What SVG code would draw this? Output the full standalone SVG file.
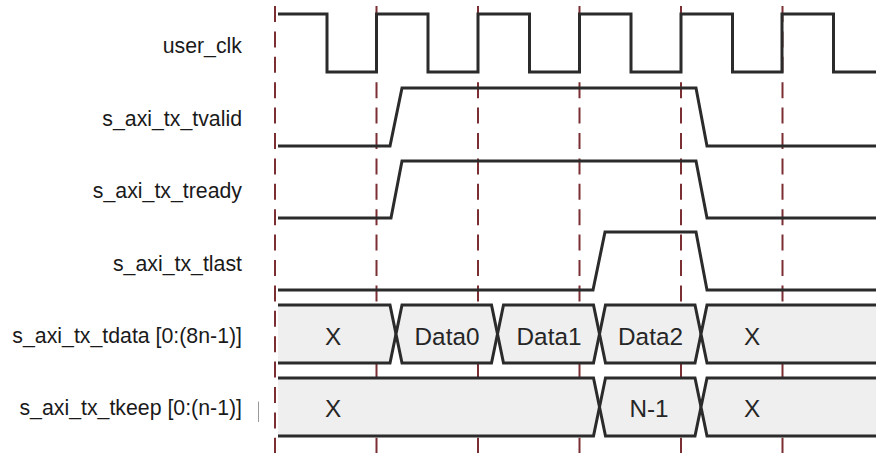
<svg xmlns="http://www.w3.org/2000/svg" width="876" height="453" viewBox="0 0 876 453">
<style>
.lbl{font-family:"Liberation Sans",Arial,sans-serif;font-size:21.3px;fill:#1a1a1a;text-anchor:end}
.btx{font-family:"Liberation Sans",Arial,sans-serif;font-size:24.3px;fill:#262626;text-anchor:middle}
.wave{fill:none;stroke:#2b2b2b;stroke-width:3;stroke-linejoin:miter}
.bus{fill:#efefef;stroke:#2b2b2b;stroke-width:3;stroke-linejoin:miter}
.grid{stroke:#7b2f33;stroke-width:2;stroke-dasharray:16 9.4;fill:none}
</style>
<rect width="876" height="453" fill="#ffffff"/>
<g id="labels">
<text class="lbl" x="242" y="53">user_clk</text>
<text class="lbl" x="242" y="126">s_axi_tx_tvalid</text>
<text class="lbl" x="242" y="198">s_axi_tx_tready</text>
<text class="lbl" x="242" y="271">s_axi_tx_tlast</text>
<text class="lbl" x="242" y="343">s_axi_tx_tdata [0:(8n-1)]</text>
<text class="lbl" x="242" y="415">s_axi_tx_tkeep [0:(n-1)]</text>
<line x1="258.5" y1="401.5" x2="258.5" y2="422" stroke="#9a9a9a" stroke-width="1"/>
</g>
<g id="connectors">
<line class="grid" x1="275" y1="6" x2="275" y2="453"/>
<line class="grid" x1="376.5" y1="6" x2="376.5" y2="453"/>
<line class="grid" x1="478" y1="6" x2="478" y2="453"/>
<line class="grid" x1="579.5" y1="6" x2="579.5" y2="453"/>
<line class="grid" x1="681" y1="6" x2="681" y2="453"/>
<line class="grid" x1="782.5" y1="6" x2="782.5" y2="453"/>
</g>
<g id="user_clk">
<path class="wave" d="M278,14 H327 V72 H376.5 V14 H428 V72 H478 V14 H529.5 V72 H579.5 V14 H631 V72 H681 V14 H732.5 V72 H782 V14 H833.5 V72 H878"/>
</g>
<g id="s_axi_tx_tvalid">
<path class="wave" d="M278,146 H390 L402,88 H696 L707,146 H878"/>
</g>
<g id="s_axi_tx_tready">
<path class="wave" d="M278,218 H391 L402,161 H696 L707,218 H878"/>
</g>
<g id="s_axi_tx_tlast">
<path class="wave" d="M278,290 H593 L605,232 H696 L707,290 H878"/>
</g>
<g id="s_axi_tx_tdata">
<path class="bus" d="M278,305 H390 L396,334 L390,363 H278"/>
<path class="bus" d="M402,305 H491.5 L497.5,334 L491.5,363 H402 L396,334 Z"/>
<path class="bus" d="M503.5,305 H593.5 L599.5,334 L593.5,363 H503.5 L497.5,334 Z"/>
<path class="bus" d="M605.5,305 H695 L701,334 L695,363 H605.5 L599.5,334 Z"/>
<path class="bus" d="M880,305 H707 L701,334 L707,363 H880"/>
<text class="btx" x="333" y="344.5">X</text>
<text class="btx" x="447" y="344.5">Data0</text>
<text class="btx" x="549" y="344.5">Data1</text>
<text class="btx" x="650.5" y="344.5">Data2</text>
<text class="btx" x="752" y="344.5">X</text>
</g>
<g id="s_axi_tx_tkeep">
<path class="bus" d="M278,378 H593.5 L599.5,407 L593.5,436 H278"/>
<path class="bus" d="M605.5,378 H695 L701,407 L695,436 H605.5 L599.5,407 Z"/>
<path class="bus" d="M880,378 H707 L701,407 L707,436 H880"/>
<text class="btx" x="333" y="416.5">X</text>
<text class="btx" x="649" y="416.5">N-1</text>
<text class="btx" x="752" y="416.5">X</text>
</g>
</svg>
